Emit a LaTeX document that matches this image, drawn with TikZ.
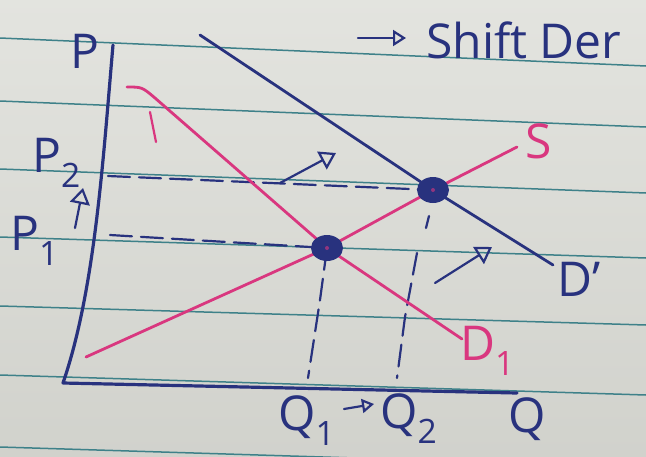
\documentclass[tikz,border=0pt]{standalone}
\usepackage{fontspec}
\setmainfont{Open Sans}
\usetikzlibrary{arrows.meta}
\definecolor{paper}{HTML}{DCDDD7}
\definecolor{rule}{HTML}{3E8189}
\definecolor{ink}{HTML}{28327E}
\definecolor{pen}{HTML}{D9377F}
\begin{document}
\begin{tikzpicture}[x=1pt,y=-1pt,line cap=round,line join=round,
  ruling/.style={rule,line width=1.5pt},
  axis/.style={ink,line width=3.2pt},
  curve/.style={line width=2.8pt},
  guide/.style={ink,line width=2.2pt,dash pattern=on 22pt off 9pt},
  move/.style={ink,line width=2.2pt,-{Triangle[open,length=16pt,width=20pt]}},
  lbl/.style={ink,font=\fontsize{48}{54}\selectfont,inner sep=0pt,anchor=base west}]
  \clip (0,0) rectangle (646,456);
  \fill[top color=paper!80!white,bottom color=paper!95!black] (0,0) rectangle (646,456);
  \foreach \l/\r in {38/66,101/127,169/193,237/258,306/325,375/395,447/467}
    \draw[ruling] (0,\l) -- (646,\r);
  \coordinate (ptop) at (113,45);
  \coordinate (o) at (63,383);
  \coordinate (qend) at (517,393);
  \coordinate (e1) at (327,248);
  \coordinate (e2) at (433,190);
  \coordinate (s0) at (86,357);
  \coordinate (s1) at (517,147);
  \coordinate (d0) at (127,87);
  \coordinate (d1) at (155,98);
  \coordinate (d2) at (462,339);
  \coordinate (dp0) at (200,35);
  \coordinate (dp1) at (553,265);
  \coordinate (p2) at (108,176);
  \coordinate (p1) at (110,235);
  \coordinate (q1m) at (320,300);
  \coordinate (q1) at (308,378);
  \coordinate (q2t) at (417,253);
  \coordinate (q2m) at (405,317);
  \coordinate (q2) at (397,378);
  \draw[axis] (ptop) .. controls (103,160) and (95,290) .. (o) -- (qend);
  \draw[guide] (p2) -- (e2);
  \draw[guide] (p1) -- (e1);
  \draw[guide] (e1) -- (q1m) -- (q1);
  \draw[guide] (q2t) -- (q2m) -- (q2);
  \draw[pen,curve] (s0) -- (e1) -- (e2) -- (s1);
  \draw[pen,curve] (d0) .. controls (142,87) .. (d1) -- (e1) -- (d2);
  \draw[pen,line width=2.2pt] (150,112) -- (156,142);
  \draw[ink,curve] (dp0) -- (e2) -- (dp1);
  \foreach \e in {e1,e2} {
    \fill[ink] (\e) ellipse (16pt and 13pt);
    \fill[pen!60!ink] (\e) circle (2pt);
  }
  \draw[ink,line width=2.2pt] (429,216) -- (426,228);
  \draw[move] (75,228) -- (83,188);
  \draw[move] (280,183) -- (336,153);
  \draw[move] (435,283) -- (492,247);
  \draw[move,-{Triangle[open,length=12pt,width=14pt]}] (344,409) -- (374,404);
  \draw[move,-{Triangle[open,length=13pt,width=16pt]}] (358,38) -- (406,38);
  \node[lbl] (P) at (70,68) {P};
  \node[lbl] (P2) at (32,172) {P\textsubscript{2}};
  \node[lbl] (P1) at (10,250) {P\textsubscript{1}};
  \node[lbl] (Q1) at (278,430) {Q\textsubscript{1}};
  \node[lbl] (Q2) at (380,428) {Q\textsubscript{2}};
  \node[lbl] (Q) at (508,432) {Q};
  \node[lbl,pen] (S) at (525,158) {S};
  \node[lbl] (Dp) at (557,296) {D'};
  \node[lbl,pen] (D1) at (460,360) {D\textsubscript{1}};
  \node[lbl] (note) at (426,58) {Shift Der};
\end{tikzpicture}
\end{document}
